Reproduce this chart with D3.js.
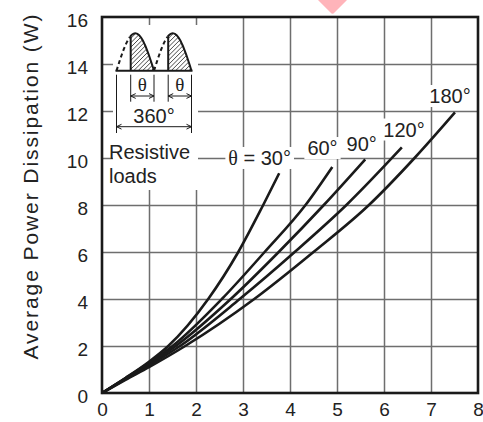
<!DOCTYPE html>
<html>
<head>
<meta charset="utf-8">
<script src="https://cdn.jsdelivr.net/npm/d3@7"></script>
<style>
  body { margin: 0; background: #fff; }
  svg { display: block; font-family: "Liberation Sans", Arial, sans-serif; }
</style>
</head>
<body>
<svg id="chart" width="483" height="422"></svg>
<script>
// tick values
const xTicks = [0, 1, 2, 3, 4, 5, 6, 7, 8];
const yTicks = [0, 2, 4, 6, 8, 10, 12, 14, 16];

// conduction angle curves: current (x) and power (y)
const i30 = [0, 0.5, 1, 1.41, 2.26, 2.9, 3.43, 3.77];
const p30 = [0, 0.64, 1.33, 2, 4, 6, 8, 9.35];
const i60 = [0, 0.5, 1, 1.5, 2.55, 3.46, 4.33, 4.9];
const p60 = [0, 0.63, 1.28, 2, 4, 6, 8, 9.62];
const i90 = [0, 0.5, 1, 1.57, 2.74, 3.76, 4.72, 5.6];
const p90 = [0, 0.61, 1.22, 2, 4, 6, 8, 9.94];
const i120 = [0, 0.5, 1, 1.66, 2.93, 4.1, 5.2, 6.38];
const p120 = [0, 0.59, 1.17, 2, 4, 6, 8, 10.45];
const i180 = [0, 0.5, 1, 1.77, 3.24, 4.5, 5.68, 6.65, 7.51];
const p180 = [0, 0.56, 1.1, 2, 4, 6, 8, 10, 11.94];
const curveLabels = ["30°", "60°", "90°", "120°", "180°"];

const series = [[i30, p30], [i60, p60], [i90, p90], [i120, p120], [i180, p180]];
// label placement relative to the end of each curve (px)
const labelDx = [-19.5, -9.8, -3.5, 2.1, -5];
const labelDy = [-8.3, -11.9, -8.9, -10.9, -9.4];

const SERIF = "'Liberation Serif', 'DejaVu Serif', serif";
const svg = d3.select("#chart");
const plotLeft = 102, plotTop = 17, size = 376;

const x = d3.scaleLinear().domain([0, 8]).range([plotLeft, plotLeft + size]);
const y = d3.scaleLinear().domain([0, 16]).range([plotTop + size, plotTop]);

// watermark corner
svg.append("path")
  .attr("d", "M318,0 L347,0 L334.5,12.5 Q332.5,15 330.5,12.5 Z")
  .attr("fill", "#ffb4ba");

// grid
const gx = svg.append("g")
  .attr("transform", `translate(0,${plotTop + size})`)
  .call(d3.axisBottom(x).tickValues(xTicks.slice(1, -1)).tickSize(-size).tickFormat(""));
const gy = svg.append("g")
  .attr("transform", `translate(${plotLeft},0)`)
  .call(d3.axisLeft(y).tickValues(yTicks.slice(1, -1)).tickSize(-size).tickFormat(""));
[gx, gy].forEach(g => {
  g.select(".domain").remove();
  g.selectAll("line").attr("stroke", "#6e6e6e").attr("stroke-width", 1.5);
});

// tick labels
const lx = svg.append("g")
  .attr("transform", `translate(0,${plotTop + size})`)
  .call(d3.axisBottom(x).tickValues(xTicks).tickSize(0).tickPadding(10).tickFormat(d3.format("d")));
const ly = svg.append("g")
  .attr("transform", `translate(${plotLeft},0)`)
  .call(d3.axisLeft(y).tickValues(yTicks).tickSize(0).tickPadding(14).tickFormat(d3.format("d")));
[lx, ly].forEach(g => {
  g.select(".domain").remove();
  g.selectAll("text").attr("fill", "#222").style("font-size", "19px")
    .style("font-family", "'Liberation Sans', Arial, sans-serif");
});
ly.selectAll("text").attr("dy", "0.5em");

// y title
svg.append("text")
  .attr("transform", "translate(38,187) rotate(-90)")
  .attr("text-anchor", "middle")
  .attr("textLength", 345)
  .attr("lengthAdjust", "spacing")
  .style("font-size", "21px")
  .attr("fill", "#222")
  .text("Average Power Dissipation  (W)");

// inset: white panel over the grid
svg.append("rect").attr("x", 113).attr("y", 25).attr("width", 85).attr("height", 165).attr("fill", "#fff");

const inset = svg.append("g").attr("stroke", "#1a1a1a").attr("fill", "none");
const base = 70.7, hh = 37.4, hw = 37.5, x0 = 116.5, thStart = 14.2;
const hump = (sx, from, to) => {
  const pts = d3.range(from, to + 0.001, 0.02).map(t => [sx + t * hw, base - hh * Math.sin(Math.PI * t)]);
  return pts;
};
const defs = svg.append("defs");
[0, 1].forEach(k => {
  const sx = x0 + k * hw;
  const f = thStart / hw;
  const solid = hump(sx, f, 1);
  const area = [[sx + thStart, base], ...solid];
  defs.append("clipPath").attr("id", "hc" + k)
    .append("path").attr("d", d3.line()(area) + "Z");
  const hatch = inset.append("g").attr("clip-path", `url(#hc${k})`).attr("stroke-width", 0.8);
  for (let s = -40; s < 40; s += 4.4) {
    hatch.append("line")
      .attr("x1", sx + s).attr("y1", base)
      .attr("x2", sx + s + 40).attr("y2", base - 40);
  }
  inset.append("path").attr("d", d3.line()(hump(sx, 0, f)))
    .attr("stroke-width", 2).attr("stroke-dasharray", "4,3");
  inset.append("path").attr("d", d3.line()(area)).attr("stroke-width", 2);
  // theta dimension
  const a = sx + thStart, b = sx + hw;
  inset.append("line").attr("x1", a).attr("x2", a).attr("y1", base + 4).attr("y2", 101.7).attr("stroke-width", 1);
  inset.append("line").attr("x1", b).attr("x2", b).attr("y1", base + 4).attr("y2", k === 1 ? 133 : 101.7).attr("stroke-width", 1);
  inset.append("line").attr("x1", a).attr("x2", b).attr("y1", 96).attr("y2", 96).attr("stroke-width", 1);
  inset.append("path").attr("d", `M${a + 5},93.6 L${a},96 L${a + 5},98.4 M${b - 5},93.6 L${b},96 L${b - 5},98.4`).attr("stroke-width", 1);
  svg.append("text").attr("x", (a + b) / 2).attr("y", 90.5).attr("text-anchor", "middle")
    .style("font-family", SERIF).style("font-size", "19px").attr("fill", "#222").text("θ");
});
inset.append("line").attr("x1", x0 - 1).attr("x2", x0 + 2 * hw + 1).attr("y1", base).attr("y2", base).attr("stroke-width", 2);
inset.append("line").attr("x1", x0).attr("x2", x0).attr("y1", base + 4).attr("y2", 133).attr("stroke-width", 1);
const e = x0 + 2 * hw;
inset.append("line").attr("x1", x0).attr("x2", e).attr("y1", 126.7).attr("y2", 126.7).attr("stroke-width", 1);
inset.append("path").attr("d", `M${x0 + 5},124.3 L${x0},126.7 L${x0 + 5},129.1 M${e - 5},124.3 L${e},126.7 L${e - 5},129.1`).attr("stroke-width", 1);
svg.append("text").attr("x", x0 + hw).attr("y", 122.7).attr("text-anchor", "middle")
  .style("font-size", "20px").attr("fill", "#222").text("360°");

// label with white backing box
function boxedLabel(parts, cx, by, pad) {
  const g = svg.append("g");
  const t = g.append("text").attr("x", cx).attr("y", by).attr("text-anchor", "middle")
    .style("font-size", "20px").attr("fill", "#222");
  parts.forEach(p => {
    const ts = t.append("tspan").text(p.text);
    if (p.serif) ts.style("font-family", SERIF);
  });
  const bb = t.node().getBBox();
  g.insert("rect", () => t.node())
    .attr("x", bb.x - pad).attr("y", bb.y + 3 - pad)
    .attr("width", bb.width + 2 * pad).attr("height", bb.height - 6 + 2 * pad)
    .attr("fill", "#fff");
}

// Resistive loads
const rl = svg.append("g");
const rlt = rl.append("text").attr("x", 109).style("font-size", "20px").attr("fill", "#222");
rlt.append("tspan").attr("x", 109).attr("y", 159.3).text("Resistive");
rlt.append("tspan").attr("x", 109).attr("y", 183).text("loads");

// curves
const line = d3.line().x(d => x(d[0])).y(d => y(d[1])).curve(d3.curveMonotoneX);
series.forEach(([xs, ps]) => {
  svg.append("path")
    .datum(xs.map((v, i) => [v, ps[i]]))
    .attr("d", line)
    .attr("fill", "none")
    .attr("stroke", "#1a1a1a")
    .attr("stroke-width", 2.6)
    .attr("stroke-linecap", "butt");
});

// curve labels
series.forEach(([xs, ps], i) => {
  const n = xs.length - 1;
  const cx = x(xs[n]) + labelDx[i], by = y(ps[n]) + labelDy[i];
  const parts = i === 0
    ? [{ text: "θ", serif: true }, { text: " = " + curveLabels[0] }]
    : [{ text: curveLabels[i] }];
  boxedLabel(parts, cx, by, 3);
});

// frame
svg.append("rect").attr("x", plotLeft).attr("y", plotTop).attr("width", size).attr("height", size)
  .attr("fill", "none").attr("stroke", "#1a1a1a").attr("stroke-width", 2.6);
</script>
</body>
</html>
